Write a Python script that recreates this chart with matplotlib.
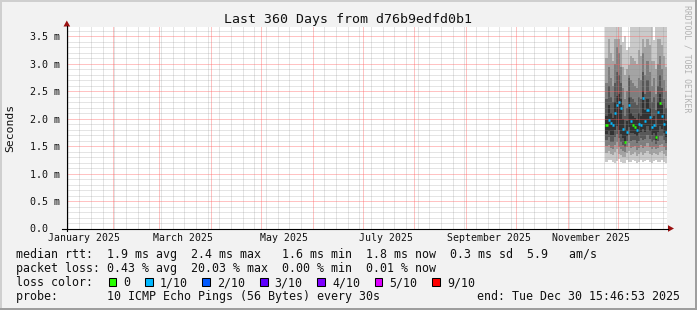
import datetime as dt

import matplotlib
matplotlib.use("Agg")
import matplotlib.pyplot as plt
import matplotlib.dates as mdates
from matplotlib import transforms
from matplotlib.lines import Line2D
from matplotlib.patches import Rectangle, Polygon
from matplotlib.ticker import MultipleLocator, FuncFormatter, NullFormatter
import numpy as np

W, H = 697, 310
MONO = "DejaVu Sans Mono"

# ---- data -----------------------------------------------------------------
t_start = dt.datetime(2025, 1, 4, 15, 46, 53)
t_end = dt.datetime(2025, 12, 30, 15, 46, 53)
smoke_from = dt.datetime(2025, 11, 23, 18, 0)   # first consolidated column

# median rtt (ms) per column and lost pings per column
median = [1.88, 1.97, 1.92, 1.88, 2.10, 2.25, 2.31, 2.20, 1.82, 1.58,
          1.76, 2.25, 1.95, 1.88, 1.85, 1.79, 1.90, 1.88, 2.37, 1.95,
          2.16, 2.03, 1.85, 1.88, 1.67, 2.13, 2.28, 2.05, 1.90, 1.76]
loss_idx = [0, 1, 1, 1, 1, 1, 1, 1, 1, 0, 1, 1, 1, 0, 0,
            1, 1, 1, 1, 1, 1, 1, 1, 1, 0, 1, 0, 1, 1, 1]

# sorted ping slots (ms), p1 = fastest ... p10 = slowest
p1 = [1.22, 1.25, 1.24, 1.21, 1.20, 1.23, 1.26, 1.22, 1.20, 1.19,
      1.24, 1.22, 1.21, 1.25, 1.23, 1.20, 1.22, 1.24, 1.21, 1.23,
      1.25, 1.22, 1.20, 1.23, 1.24, 1.21, 1.22, 1.25, 1.22, 1.20]
p2 = [1.38, 1.42, 1.35, 1.33, 1.40, 1.45, 1.36, 1.34, 1.31, 1.30,
      1.37, 1.41, 1.33, 1.36, 1.39, 1.32, 1.35, 1.40, 1.34, 1.38,
      1.42, 1.36, 1.33, 1.37, 1.35, 1.33, 1.39, 1.41, 1.36, 1.32]
p3 = [1.50, 1.52, 1.46, 1.44, 1.52, 1.58, 1.49, 1.45, 1.42, 1.40,
      1.48, 1.55, 1.46, 1.48, 1.50, 1.43, 1.47, 1.52, 1.46, 1.50,
      1.55, 1.49, 1.45, 1.49, 1.44, 1.46, 1.52, 1.54, 1.48, 1.43]
p4 = [1.62, 1.66, 1.58, 1.58, 1.66, 1.72, 1.65, 1.58, 1.52, 1.48,
      1.60, 1.70, 1.60, 1.62, 1.62, 1.56, 1.60, 1.64, 1.62, 1.63,
      1.70, 1.63, 1.58, 1.62, 1.54, 1.60, 1.68, 1.68, 1.62, 1.55]
p5 = [1.72, 1.78, 1.70, 1.70, 1.80, 1.86, 1.80, 1.72, 1.64, 1.55,
      1.68, 1.85, 1.74, 1.74, 1.72, 1.68, 1.74, 1.76, 1.82, 1.76,
      1.86, 1.78, 1.70, 1.74, 1.62, 1.76, 1.86, 1.82, 1.74, 1.66]
p6 = [2.05, 2.25, 2.10, 2.02, 2.30, 2.42, 2.45, 2.35, 2.00, 1.80,
      1.95, 2.40, 2.10, 2.05, 2.02, 1.98, 2.10, 2.05, 2.50, 2.15,
      2.35, 2.20, 2.02, 2.05, 1.85, 2.30, 2.45, 2.25, 2.08, 1.95]
p7 = [2.35, 2.60, 2.40, 2.30, 2.65, 2.85, 2.80, 2.65, 2.25, 2.05,
      2.20, 2.75, 2.40, 2.35, 2.30, 2.25, 2.40, 2.35, 2.85, 2.45,
      2.70, 2.50, 2.30, 2.40, 2.15, 2.60, 2.80, 2.55, 2.35, 2.20]
p8 = [2.65, 2.95, 2.75, 2.60, 3.00, 3.30, 3.20, 2.95, 2.55, 2.35,
      2.50, 2.80, 2.70, 2.65, 2.60, 2.55, 2.75, 2.70, 3.20, 2.80,
      3.05, 2.85, 2.60, 2.75, 2.45, 3.00, 3.15, 2.90, 2.70, 2.50]
p9 = [3.10, 3.45, 3.20, 3.05, 3.45, 3.45, 3.45, 3.35, 2.95, 2.80,
      2.90, 2.97, 3.15, 3.10, 3.05, 3.00, 3.25, 3.15, 3.45, 3.30,
      3.45, 3.35, 3.05, 3.05, 2.90, 3.45, 3.45, 3.35, 3.15, 2.95]
p10 = [3.70, 3.70, 3.70, 3.70, 3.70, 3.70, 3.70, 3.70, 3.40, 3.50,
       3.25, 3.30, 3.70, 3.70, 3.70, 3.70, 3.70, 3.70, 3.70, 3.70,
       3.70, 3.70, 3.70, 3.44, 3.70, 3.70, 3.70, 3.70, 3.70, 3.70]

loss_labels = ["0", "1/10", "2/10", "3/10", "4/10", "5/10", "9/10"]
loss_colors = ["#26ff00", "#00b8ff", "#0059ff", "#5e00ff",
               "#7e00ff", "#dd00ff", "#ff0000"]
label_months = [1, 3, 5, 7, 9, 11]

legend_rows = [
    "median rtt:  1.9 ms avg  2.4 ms max   1.6 ms min  1.8 ms now  0.3 ms sd  5.9   am/s",
    "packet loss: 0.43 % avg  20.03 % max  0.00 % min  0.01 % now",
    "loss color:",
    "probe:       10 ICMP Echo Pings (56 Bytes) every 30s",
]
end_text = "end: Tue Dec 30 15:46:53 2025"

# ---- styling --------------------------------------------------------------
BACK = "#f2f2f2"
ARROW = "#9a1010"
smoke_cols = ["#cacaca", "#a4a4a4", "#7e7e7e", "#585858", "#323232"]


def fx(x):
    return x / W


def fy(y):
    return 1 - y / H


fig = plt.figure(figsize=(W / 100, H / 100), dpi=100, facecolor=BACK)

# 3d-ish frame
fig.add_artist(Rectangle((0, fy(2)), 1, 2 / H, transform=fig.transFigure,
                         color="#cfcfcf", lw=0))
fig.add_artist(Rectangle((0, 0), 2 / W, 1, transform=fig.transFigure,
                         color="#cfcfcf", lw=0))
fig.add_artist(Rectangle((0, 0), 1, 2 / H, transform=fig.transFigure,
                         color="#9e9e9e", lw=0))
fig.add_artist(Rectangle((fx(W - 2), 0), 2 / W, 1, transform=fig.transFigure,
                         color="#9e9e9e", lw=0))

x0, x1, ytop, ybot = 67, 667, 27, 228.5
ax = fig.add_axes([fx(x0), fy(ybot), (x1 - x0) / W, (ybot - ytop) / H])
ax.set_facecolor("white")
for s in ax.spines.values():
    s.set_visible(False)

ax.set_xlim(mdates.date2num(t_start), mdates.date2num(t_end))
ax.set_ylim(0, 3.67)

# smoke
n = len(median)
edges = mdates.date2num([smoke_from + (t_end - smoke_from) * k / n for k in range(n + 1)])
lows = [p1, p2, p3, p4, p5]
highs = [p10, p9, p8, p7, p6]
for lo, hi, c in zip(lows, highs, smoke_cols):
    ax.stairs(np.array(hi), edges, baseline=np.array(lo), fill=True,
              color=c, lw=0, zorder=1, antialiased=False)

# median coloured by loss
for i in range(n):
    ax.hlines(median[i], edges[i], edges[i + 1], color=loss_colors[loss_idx[i]],
              lw=1.8, zorder=4)

# grid, drawn on top like rrdtool does (faint hairlines stand in for the dots)
ax.xaxis.set_major_locator(mdates.MonthLocator())
ax.xaxis.set_minor_locator(mdates.WeekdayLocator(byweekday=mdates.SU))
ax.xaxis.set_major_formatter(NullFormatter())
ax.yaxis.set_major_locator(MultipleLocator(0.5))
ax.yaxis.set_minor_locator(MultipleLocator(0.1))
ax.yaxis.set_major_formatter(FuncFormatter(
    lambda v, _: "0.0  " if abs(v) < 1e-9 else f"{v:.1f} m"))
ax.set_axisbelow(False)
ax.grid(which="minor", color="#8f8f8f", alpha=0.24, lw=0.72, ls="-",
        antialiased=False)
ax.grid(which="major", color="#ff5f5f", alpha=0.38, lw=0.72, ls="-",
        antialiased=False)
ax.tick_params(which="both", length=0)
ax.tick_params(axis="y", pad=5, labelsize=7.2, labelcolor="#111")
for lab in ax.get_yticklabels():
    lab.set_fontfamily(MONO)

# month labels, centred mid-month
xfig = transforms.blended_transform_factory(ax.transData, fig.transFigure)
for m in label_months:
    d = mdates.date2num(dt.datetime(2025, m, 15))
    ax.text(d, fy(241), dt.date(2025, m, 1).strftime("%B %Y"),
            transform=xfig, clip_on=False,
            fontsize=7.1, family=MONO, ha="center", va="baseline", color="#111")

# axes lines and arrows
fig.add_artist(Line2D([fx(62), fx(668)], [fy(228.5), fy(228.5)],
                      transform=fig.transFigure, color="#000", lw=0.8))
fig.add_artist(Line2D([fx(66.8), fx(66.8)], [fy(231), fy(26)],
                      transform=fig.transFigure, color="#000", lw=0.8))
fig.add_artist(Polygon([(fx(63.5), fy(26.5)), (fx(70.2), fy(26.5)), (fx(66.8), fy(20.5))],
                       closed=True, transform=fig.transFigure, color=ARROW, lw=0))
fig.add_artist(Polygon([(fx(668), fy(225.2)), (fx(668), fy(231.8)), (fx(674), fy(228.5))],
                       closed=True, transform=fig.transFigure, color=ARROW, lw=0))

# texts
fig.text(fx(348.5), fy(23.3), "Last 360 Days from d76b9edfd0b1", family=MONO,
         fontsize=9.5, ha="center", va="baseline", color="#111")
fig.text(fx(10.5), fy(127.5), "Seconds", family=MONO, fontsize=8.2,
         rotation=90, ha="center", va="center", color="#111")
fig.text(fx(687.5), fy(5), "RRDTOOL / TOBI OETIKER", family=MONO, fontsize=5.9,
         rotation=270, ha="center", va="top", color="#b2b2b2")

baselines = [258.3, 272.3, 286.3, 300.0]
for row, yb in zip(legend_rows, baselines):
    fig.text(fx(16), fy(yb), row, family=MONO, fontsize=8.4,
             ha="left", va="baseline", color="#111")
fig.text(fx(680), fy(300.0), end_text, family=MONO, fontsize=8.4,
         ha="right", va="baseline", color="#111")

# loss colour swatches
char_w = 7.0
bx = 108.7
for lab, col in zip(loss_labels, loss_colors):
    fig.add_artist(Rectangle((fx(bx), fy(286.0)), 7.6 / W, 7.6 / H,
                             transform=fig.transFigure, facecolor=col,
                             edgecolor="black", lw=0.75))
    tx = bx + 14.7
    fig.text(fx(tx), fy(286.3), lab, family=MONO, fontsize=8.4,
             ha="left", va="baseline", color="#111")
    bx = tx + len(lab) * char_w + 14.7

fig.savefig("out.png", dpi=100, facecolor=BACK)
